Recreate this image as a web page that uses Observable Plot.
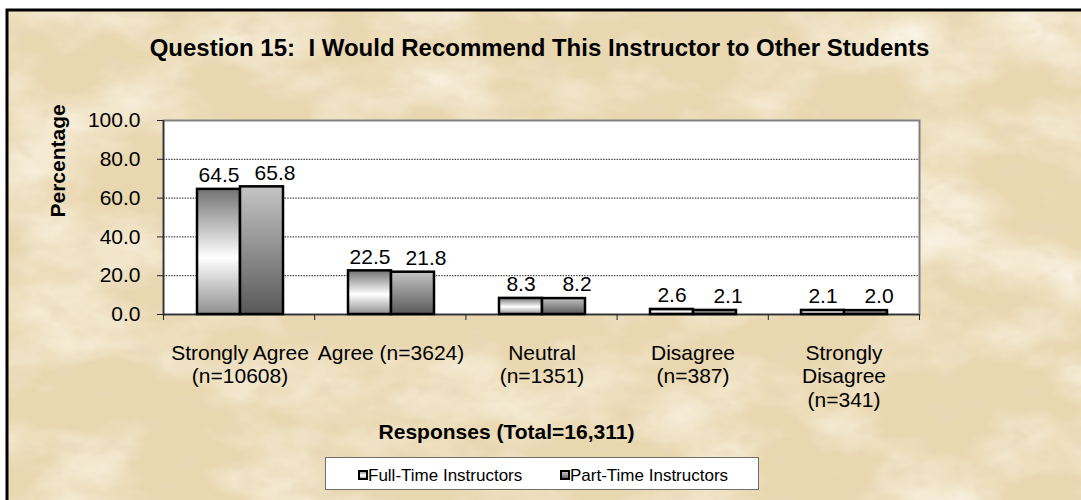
<!DOCTYPE html>
<html>
<head>
<meta charset="utf-8">
<script src="https://cdn.jsdelivr.net/npm/d3@7"></script>
<script src="https://cdn.jsdelivr.net/npm/@observablehq/plot@0.6"></script>
<style>
  body { margin: 0; background: #fff; }
  #wrap { position: relative; width: 1081px; height: 500px; overflow: hidden;
          font-family: "Liberation Sans", Arial, sans-serif; color: #000; }
  #title { position: absolute; left: 0; top: 36px; width: 1079px; text-align: center;
           font-weight: bold; font-size: 24px; line-height: 24px; white-space: pre; }
  #legend { position: absolute; left: 325px; top: 457px; width: 434px; height: 33px;
            box-sizing: border-box; background: #fff; border: 1.5px solid #6e6e6e; }
  .lg-mark { position: absolute; width: 10px; height: 10px; box-sizing: border-box;
             border: 2.5px solid #000; top: 470px; }
  .lg-text { position: absolute; top: 467px; font-size: 17px; line-height: 17px; white-space: nowrap; }
</style>
</head>
<body>
<div id="wrap">
  <svg id="bg" width="1081" height="500" style="position:absolute;left:0;top:0">
    <defs>
      <linearGradient id="gradFT" x1="0" y1="0" x2="0" y2="1">
        <stop offset="0" stop-color="#737373"/>
        <stop offset="0.55" stop-color="#ffffff"/>
        <stop offset="1" stop-color="#8f8f8f"/>
      </linearGradient>
      <linearGradient id="gradPT" x1="0" y1="0" x2="0" y2="1">
        <stop offset="0" stop-color="#c4c4c4"/>
        <stop offset="1" stop-color="#595959"/>
      </linearGradient>
      <filter id="paperLight" x="0" y="0" width="1" height="1">
        <feTurbulence type="fractalNoise" baseFrequency="0.008 0.014" numOctaves="5" seed="7"/>
        <feColorMatrix type="matrix" values="0 0 0 0 0.97  0 0 0 0 0.93  0 0 0 0 0.83  2 0 0 0 -0.85"/>
      </filter>
      <filter id="paperDark" x="0" y="0" width="1" height="1">
        <feTurbulence type="fractalNoise" baseFrequency="0.03 0.05" numOctaves="3" seed="2"/>
        <feColorMatrix type="matrix" values="0 0 0 0 0.8  0 0 0 0 0.68  0 0 0 0 0.48  2 0 0 0 -1.1"/>
      </filter>
    </defs>
    <rect x="0" y="0" width="1081" height="500" fill="#ffffff"/>
    <rect x="7" y="10" width="1080" height="495" fill="#e9d7b0"/>
    <rect x="7" y="10" width="1080" height="495" filter="url(#paperLight)"/>
    <rect x="7" y="10" width="1080" height="495" filter="url(#paperDark)"/>
    <path d="M7 505 V10 H1090" stroke="#000" stroke-width="3" fill="none"/>
  </svg>
  <div id="title"></div>
  <div id="legend"></div>
</div>
<script>
// ---- data ----
const title = "Question 15:  I Would Recommend This Instructor to Other Students";
const yTitle = "Percentage";
const xTitle = "Responses (Total=16,311)";
const categories = ["Strongly Agree", "Agree", "Neutral", "Disagree", "Strongly Disagree"];
const categoryLabels = ["Strongly Agree\n(n=10608)", "Agree (n=3624)", "Neutral\n(n=1351)", "Disagree\n(n=387)", "Strongly\nDisagree\n(n=341)"];
const seriesNames = ["Full-Time Instructors", "Part-Time Instructors"];
const fullTime = [64.5, 22.5, 8.3, 2.6, 2.1];
const partTime = [65.8, 21.8, 8.2, 2.1, 2.0];
const yTicks = [0, 20, 40, 60, 80, 100];
const gridTicks = [20, 40, 60, 80];

const rows = [];
categories.forEach((c, i) => {
  rows.push({category: c, series: seriesNames[0], value: fullTime[i]});
  rows.push({category: c, series: seriesNames[1], value: partTime[i]});
});

const W = 1081, H = 500;
const margins = {marginLeft: 163, marginRight: 162, marginTop: 120, marginBottom: 186};
const font = "'Liberation Sans', Arial, sans-serif";
const wrap = document.getElementById("wrap");

// background layer: plot area, grid, axes, axis titles
const back = Plot.plot({
  width: W, height: H, ...margins,
  style: {position: "absolute", left: "0px", top: "0px", background: "transparent",
          fontFamily: font, fontSize: "21px", color: "#000", overflow: "visible"},
  x: {domain: [0, categories.length], axis: null},
  y: {domain: [0, 100], axis: null},
  marks: [
    Plot.frame({fill: "#fff", stroke: "#808080", strokeWidth: 2}),
    Plot.gridY({ticks: gridTicks, stroke: "#1a1a1a", strokeOpacity: 1, strokeWidth: 1, strokeDasharray: "1.5,1.2"}),
    Plot.ruleX([0], {stroke: "#333", strokeWidth: 1.5}),
    Plot.ruleY([0], {stroke: "#333", strokeWidth: 1.5}),
    Plot.axisY({ticks: yTicks, tickFormat: d => d.toFixed(1), tickSize: 6, tickPadding: 17, stroke: "#222"}),
    Plot.axisX({ticks: d3.range(categories.length + 1), tickFormat: () => "", tickSize: 6, stroke: "#222"}),
    Plot.text([yTitle], {text: d => d, frameAnchor: "left", rotate: -90, dx: -105, fontWeight: "bold", fontSize: 21}),
    Plot.text([xTitle], {text: d => d, frameAnchor: "bottom", dx: -35, dy: 124, fontWeight: "bold", fontSize: 21})
  ]
});
wrap.insertBefore(back, document.getElementById("title"));

// foreground layer: grouped bars and labels
const ftRows = rows.filter(d => d.series === seriesNames[0]);
const ptRows = rows.filter(d => d.series === seriesNames[1]);
const front = Plot.plot({
  width: W, height: H, ...margins,
  style: {position: "absolute", left: "0px", top: "0px", background: "transparent",
          fontFamily: font, fontSize: "21px", color: "#000", overflow: "visible"},
  fx: {domain: categories, padding: 0, axis: null},
  x: {domain: seriesNames, paddingInner: 0, paddingOuter: 0.755, axis: null},
  y: {domain: [0, 100], axis: null},
  color: {domain: seriesNames, range: ["url(#gradFT)", "url(#gradPT)"]},
  marks: [
    Plot.barY(rows, {fx: "category", x: "series", y: "value", fill: "series", stroke: "#000", strokeWidth: 2.5}),
    Plot.text(ftRows, {fx: "category", x: "series", y: "value", text: d => d.value.toFixed(1), dy: -14}),
    Plot.text(ptRows, {fx: "category", x: "series", y: "value", text: d => d.value.toFixed(1), dy: -14, dx: 13}),
    Plot.text(categories, {fx: d => d, text: (d, i) => categoryLabels[i], frameAnchor: "bottom", lineAnchor: "top", dy: 28, lineHeight: 1.14})
  ]
});
wrap.insertBefore(front, document.getElementById("title"));

// title
document.getElementById("title").textContent = title;

// legend
const legendMarks = [
  {left: 358, fill: "linear-gradient(#9a9a9a, #ffffff 55%, #b0b0b0)"},
  {left: 560, fill: "linear-gradient(#c4c4c4, #6a6a6a)"}
];
seriesNames.forEach((s, i) => {
  const m = document.createElement("div");
  m.className = "lg-mark";
  m.style.left = legendMarks[i].left + "px";
  m.style.background = legendMarks[i].fill;
  wrap.appendChild(m);
  const t = document.createElement("div");
  t.className = "lg-text";
  t.style.left = (legendMarks[i].left + 10) + "px";
  t.textContent = s;
  wrap.appendChild(t);
});
</script>
</body>
</html>
